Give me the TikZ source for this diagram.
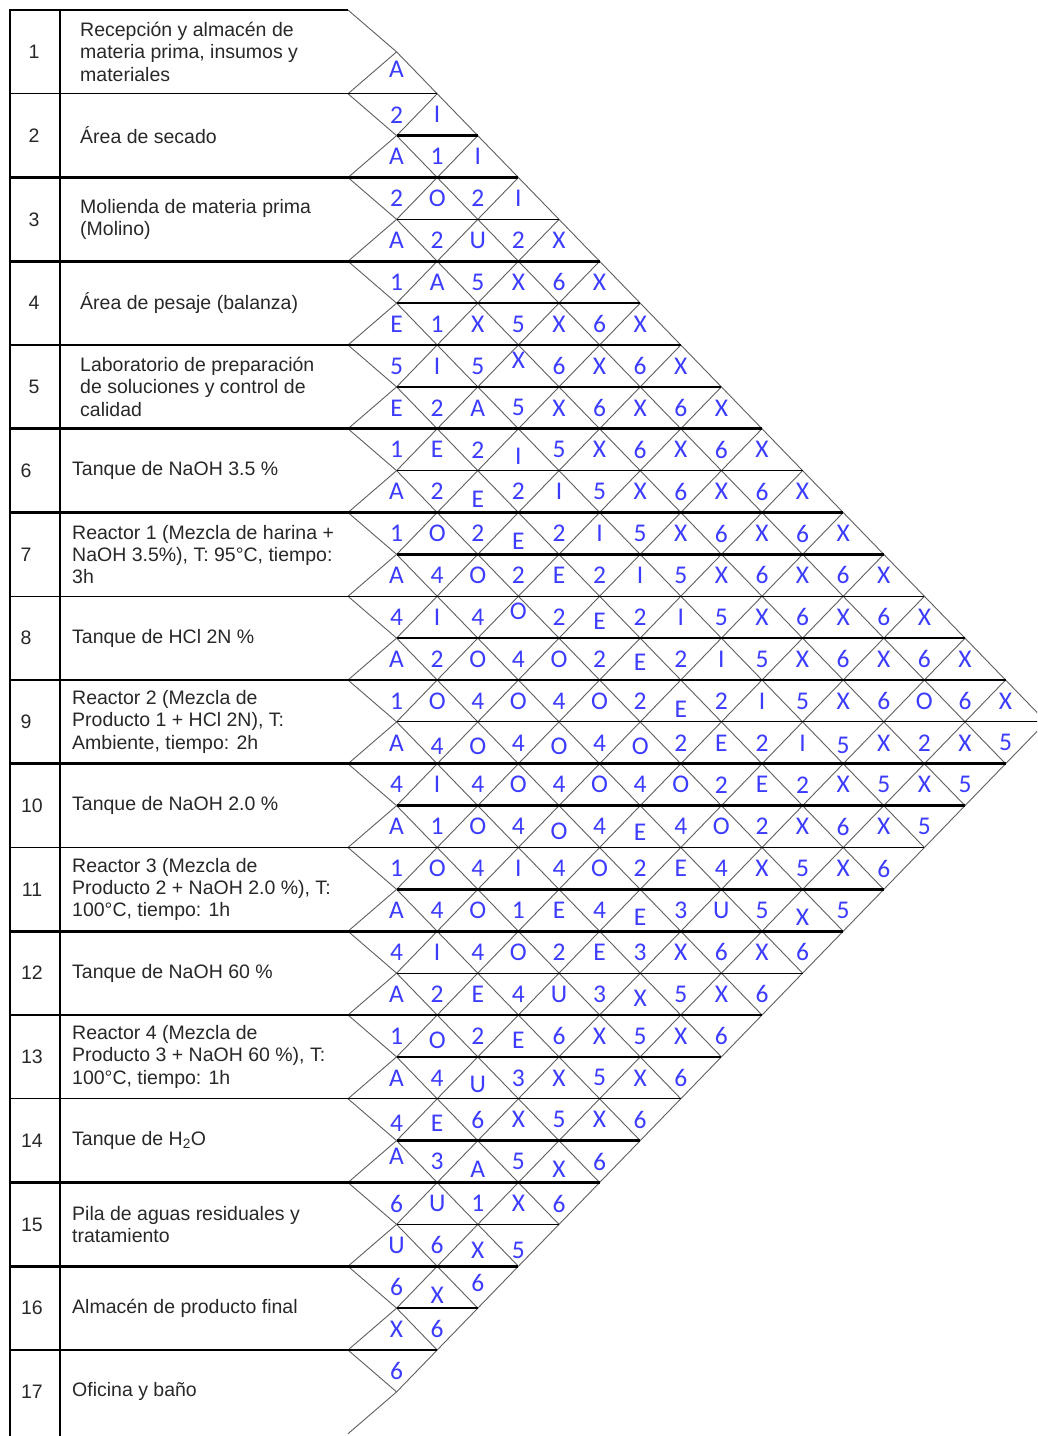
\documentclass[tikz,border=0pt]{standalone}
\usepackage{fontspec}
\setmainfont{Liberation Sans}
\newfontfamily\labfont{Carlito}
\definecolor{labc}{RGB}{60,60,255}
\definecolor{txtc}{RGB}{40,40,40}
\definecolor{gridc}{RGB}{95,95,95}
% vertical tweaks of single labels (strip-index)
\def\setdy#1#2{\expandafter\def\csname dy#1\endcsname{#2}}
\setdy{1-1}{-4}
\setdy{8-4}{-6}
\setdy{10-4}{7}
\setdy{11-3}{8}
\setdy{12-4}{8}
\setdy{14-4}{-6}
\setdy{14-6}{4}
\setdy{15-7}{3}
\setdy{16-8}{8}
\setdy{17-2}{3}
\setdy{17-3}{3}
\setdy{17-5}{3}
\setdy{17-7}{3}
\setdy{17-12}{3}
\setdy{19-5}{5}
\setdy{19-7}{6}
\setdy{21-7}{7}
\setdy{21-11}{7}
\setdy{23-7}{4}
\setdy{24-2}{4}
\setdy{24-4}{4}
\setdy{25-3}{7}
\setdy{26-1}{4}
\setdy{26-2}{4}
\setdy{27-1}{-5}
\setdy{27-3}{8}
\setdy{27-5}{8}
\setdy{29-3}{5}
\setdy{29-4}{5}
\setdy{30-2}{8}
\setdy{30-3}{-4}
\begin{document}
\begin{tikzpicture}[x=1pt,y=-1pt,
  thinh/.style={line width=1.1pt, black},
  thickh/.style={line width=2.6pt, black},
  diag/.style={line width=0.9pt, gridc},
  labn/.style={font=\labfont\fontsize{25.5}{25.5}\selectfont, text=labc, inner sep=0pt},
  namen/.style={font=\fontsize{19.5}{22.3}\selectfont, text=txtc, align=left, anchor=west, inner sep=0pt},
  numn/.style={font=\fontsize{19.5}{22.3}\selectfont, text=txtc, inner sep=0pt}]
\pgfmathdeclarefunction{XX}{1}{\pgfmathparse{ifthenelse(#1==0,348,356+40.6*#1)}}
\def\H{41.875}
\useasboundingbox (0,0) rectangle (1037,1436);
\clip (0,0) rectangle (1037,1436);
\fill[white] (0,0) rectangle (1037,1436);
% diagonals
\foreach \s in {0,...,33} {
  \foreach \m in {0,...,17} {
    \pgfmathtruncatemacro\ok{(mod(\m+\s,2)==0) && (\m>=mod(\s,2)) && (\m<=min(\s,34-\s))}
    \ifnum\ok=1
      \pgfmathtruncatemacro\okr{(\m+1<=min(\s+1,33-\s))}
      \ifnum\okr=1
        \draw[diag] ({XX(\m)},{10+\H*\s}) -- ({XX(\m+1)},{10+\H*(\s+1)});
      \fi
      \ifnum\m>0
        \draw[diag] ({XX(\m)},{10+\H*\s}) -- ({XX(\m-1)},{10+\H*(\s+1)});
      \fi
    \fi
  }
}
% horizontal lines
\draw[thickh] (10,10) -- (348,10);
\foreach \j in {2,...,32} {
  \pgfmathtruncatemacro\lo{mod(\j,2)}
  \pgfmathtruncatemacro\hi{min(\j,34-\j)}
  \pgfmathtruncatemacro\tn{mod(\j,3)==2}
  \pgfmathsetmacro\xa{ifthenelse(\lo==0,10,XX(1))}
  \pgfmathsetmacro\xb{XX(\hi)}
  \ifnum\tn=1
    \draw[thinh] (\xa,{10+\H*\j}) -- (\xb,{10+\H*\j});
  \else
    \draw[thickh] (\xa,{10+\H*\j}) -- (\xb,{10+\H*\j});
  \fi
}
% table verticals
\draw[line width=1.5pt] (10,9) -- (10,1436);
\draw[line width=2.8pt] (60,9) -- (60,1436);
% labels
\foreach \s/\L in {1/{A},2/{2,I},3/{A,1,I},4/{2,O,2,I},5/{A,2,U,2,X},6/{1,A,5,X,6,X},
  7/{E,1,X,5,X,6,X},8/{5,I,5,X,6,X,6,X},9/{E,2,A,5,X,6,X,6,X},10/{1,E,2,I,5,X,6,X,6,X},
  11/{A,2,E,2,I,5,X,6,X,6,X},12/{1,O,2,E,2,I,5,X,6,X,6,X},13/{A,4,O,2,E,2,I,5,X,6,X,6,X},
  14/{4,I,4,O,2,E,2,I,5,X,6,X,6,X},15/{A,2,O,4,O,2,E,2,I,5,X,6,X,6,X},
  16/{1,O,4,O,4,O,2,E,2,I,5,X,6,O,6,X},17/{A,4,O,4,O,4,O,2,E,2,I,5,X,2,X,5},
  18/{4,I,4,O,4,O,4,O,2,E,2,X,5,X,5},19/{A,1,O,4,O,4,E,4,O,2,X,6,X,5},
  20/{1,O,4,I,4,O,2,E,4,X,5,X,6},21/{A,4,O,1,E,4,E,3,U,5,X,5},22/{4,I,4,O,2,E,3,X,6,X,6},
  23/{A,2,E,4,U,3,X,5,X,6},24/{1,O,2,E,6,X,5,X,6},25/{A,4,U,3,X,5,X,6},26/{4,E,6,X,5,X,6},
  27/{A,3,A,5,X,6},28/{6,U,1,X,6},29/{U,6,X,5},30/{6,X,6},31/{X,6},32/{6}} {
  \foreach \c [count=\k] in \L {
    \ifcsname dy\s-\k\endcsname
      \edef\dd{\csname dy\s-\k\endcsname}
    \else
      \def\dd{0}
    \fi
    \node[labn] (l\s-\k) at ({XX(\k)},{10+\H*\s+21+\dd}) {\c};
  }
}
% numbers
\node[numn] (n1) at (34,51.9) {1};
\node[numn] (n2) at (34,135.6) {2};
\node[numn] (n3) at (34,219.4) {3};
\node[numn] (n4) at (34,303.1) {4};
\node[numn] (n5) at (34,386.9) {5};
\node[numn] (n6) at (26,470.6) {6};
\node[numn] (n7) at (26,554.4) {7};
\node[numn] (n8) at (26,638.1) {8};
\node[numn] (n9) at (26,721.9) {9};
\node[numn] (n10) at (32,805.6) {10};
\node[numn] (n11) at (32,889.4) {11};
\node[numn] (n12) at (32,973.1) {12};
\node[numn] (n13) at (32,1056.9) {13};
\node[numn] (n14) at (32,1140.6) {14};
\node[numn] (n15) at (32,1224.4) {15};
\node[numn] (n16) at (32,1308.1) {16};
\node[numn] (n17) at (32,1391.9) {17};
% names
\node[namen] (t1) at (80,51.9) {Recepción y almacén de\\materia prima, insumos y\\materiales};
\node[namen] (t2) at (80,135.6) {Área de secado};
\node[namen] (t3) at (80,219.4) {Molienda de materia prima\\(Molino)};
\node[namen] (t4) at (80,303.1) {Área de pesaje (balanza)};
\node[namen] (t5) at (80,386.9) {Laboratorio de preparación\\de soluciones y control de\\calidad};
\node[namen] (t6) at (72,470.6) {Tanque de NaOH 3.5 \%};
\node[namen] (t7) at (72,554.4) {Reactor 1 (Mezcla de harina +\\NaOH 3.5\%), T: 95°C, tiempo:\\3h};
\node[namen] (t8) at (72,638.1) {Tanque de HCl 2N \%};
\node[namen] (t9) at (72,721.9) {Reactor 2 (Mezcla de\\Producto 1 + HCl 2N), T:\\Ambiente, tiempo: 2h};
\node[namen] (t10) at (72,805.6) {Tanque de NaOH 2.0 \%};
\node[namen] (t11) at (72,889.4) {Reactor 3 (Mezcla de\\Producto 2 + NaOH 2.0 \%), T:\\100°C, tiempo: 1h};
\node[namen] (t12) at (72,973.1) {Tanque de NaOH 60 \%};
\node[namen] (t13) at (72,1056.9) {Reactor 4 (Mezcla de\\Producto 3 + NaOH 60 \%), T:\\100°C, tiempo: 1h};
\node[namen] (t14) at (72,1140.6) {Tanque de H\textsubscript{2}O};
\node[namen] (t15) at (72,1224.4) {Pila de aguas residuales y\\tratamiento};
\node[namen] (t16) at (72,1308.1) {Almacén de producto final};
\node[namen] (t17) at (72,1391.9) {Oficina y baño};
\end{tikzpicture}
\end{document}
